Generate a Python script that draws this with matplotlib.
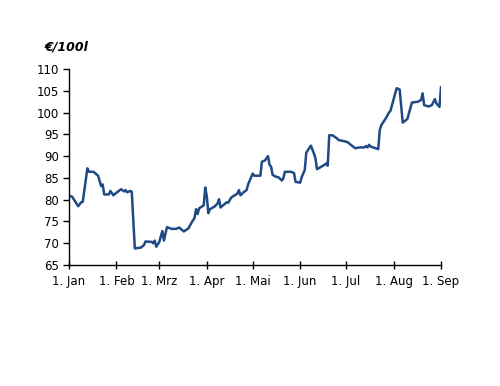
import matplotlib
matplotlib.use("Agg")
import matplotlib.pyplot as plt
import pandas as pd

# price series (year without Feb 29)
dates = [
    "01-01", "01-03", "01-07", "01-09", "01-10", "01-13", "01-14", "01-17", "01-20", "01-22",
    "01-23", "01-24", "01-27", "01-28", "01-30", "02-01", "02-04", "02-06", "02-07", "02-08",
    "02-10", "02-11", "02-13", "02-17", "02-19", "02-20", "02-24", "02-25", "02-26", "02-27",
    "03-01", "03-03", "03-04", "03-06", "03-09", "03-12", "03-14", "03-17", "03-20", "03-22",
    "03-24", "03-25", "03-26", "03-27", "03-30", "03-31", "04-01", "04-02", "04-03", "04-06",
    "04-08", "04-09", "04-10", "04-14", "04-15", "04-17", "04-21", "04-22", "04-23", "04-25",
    "04-27", "04-28", "05-01", "05-02", "05-06", "05-07", "05-09", "05-11", "05-12", "05-13",
    "05-14", "05-16", "05-18", "05-20", "05-21", "05-22", "05-26", "05-28", "05-29", "06-01",
    "06-02", "06-04", "06-05", "06-08", "06-10", "06-11", "06-12", "06-16", "06-18", "06-19",
    "06-20", "06-22", "06-25", "06-26", "06-30", "07-02", "07-03", "07-07", "07-10", "07-13",
    "07-14", "07-15", "07-16", "07-17", "07-22", "07-23", "07-24", "07-27", "07-29", "07-30",
    "08-03", "08-05", "08-07", "08-10", "08-13", "08-17", "08-19", "08-20", "08-21", "08-24",
    "08-26", "08-28", "08-29", "08-31", "09-01",
]
prices = [
    80.9, 80.7, 78.5, 79.4, 79.5, 87.2, 86.4, 86.4, 85.5, 83.1,
    83.5, 81.2, 81.2, 82.0, 81.0, 81.6, 82.4, 81.9, 82.2, 81.7,
    82.0, 81.8, 68.8, 69.0, 69.6, 70.4, 70.3, 70.0, 70.6, 69.2,
    70.3, 72.8, 70.6, 73.7, 73.3, 73.3, 73.6, 72.7, 73.4, 74.7,
    75.8, 77.8, 76.7, 78.0, 78.7, 82.8, 80.8, 76.9, 77.8, 78.4,
    79.1, 80.1, 78.2, 79.4, 79.3, 80.5, 81.4, 82.2, 81.0, 81.7,
    82.2, 83.5, 86.0, 85.5, 85.5, 88.7, 89.0, 90.0, 88.0, 87.6,
    85.7, 85.3, 85.1, 84.4, 84.9, 86.4, 86.4, 86.1, 84.1, 83.9,
    85.2, 86.8, 90.8, 92.4, 90.6, 89.5, 87.0, 87.8, 88.3, 87.8,
    94.8, 94.8, 94.1, 93.7, 93.4, 93.2, 92.9, 91.8, 92.0, 92.0,
    92.3, 92.0, 92.6, 92.2, 91.6, 96.0, 97.1, 98.7, 100.0, 100.4,
    105.6, 105.3, 97.7, 98.5, 102.3, 102.5, 102.9, 104.4, 101.7, 101.4,
    101.7, 103.1, 102.1, 101.3, 105.8,
]

tick_dates = ["01-01", "02-01", "03-01", "04-01", "05-01", "06-01", "07-01", "08-01", "09-01"]
tick_labels = ["1. Jan", "1. Feb", "1. Mrz", "1. Apr", "1. Mai", "1. Jun", "1. Jul", "1. Aug", "1. Sep"]
y_ticks = [65, 70, 75, 80, 85, 90, 95, 100, 105, 110]

x = pd.to_datetime(["2007-" + d for d in dates])
xt = pd.to_datetime(["2007-" + d for d in tick_dates])

fig = plt.figure(figsize=(5, 3.86), dpi=100)
ax = fig.add_axes([0.138, 0.3135, 0.744, 0.5077])

ax.plot(x, prices, color="#1f4a84", linewidth=1.8)

ax.set_xlim(xt[0], xt[-1])
ax.set_ylim(65, 110)
ax.set_xticks(xt)
ax.set_xticklabels(tick_labels)
ax.set_yticks(y_ticks)

for s in ["top", "right"]:
    ax.spines[s].set_visible(False)
for s in ["left", "bottom"]:
    ax.spines[s].set_linewidth(1.0)

ax.tick_params(axis="y", direction="out", length=4, width=1, labelsize=8.5, pad=3)
ax.tick_params(axis="x", direction="inout", length=6, width=1, labelsize=8.5, pad=4)

fig.text(0.09, 0.878, "€/100l", fontsize=9, style="italic", weight="semibold",
         ha="left", va="center")

fig.savefig("out.png", dpi=100)
